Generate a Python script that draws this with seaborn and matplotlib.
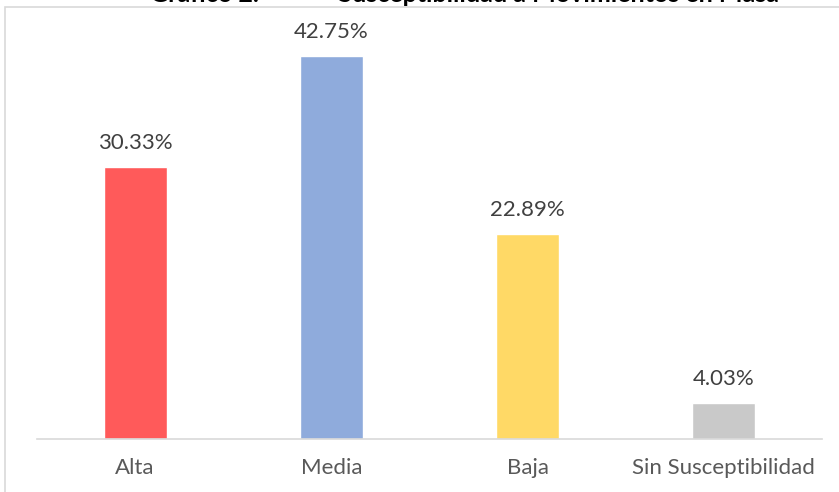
import matplotlib
matplotlib.use("Agg")
import matplotlib.pyplot as plt
import seaborn as sns
import pandas as pd
from matplotlib.patches import Rectangle

# datos del gráfico
categorias = ["Alta", "Media", "Baja", "Sin Susceptibilidad"]
porcentajes = [30.33, 42.75, 22.89, 4.03]
etiquetas = ["30.33%", "42.75%", "22.89%", "4.03%"]
colores = ["#FF5A5A", "#8FABDC", "#FFD966", "#C9C9C9"]

df = pd.DataFrame({"Categoria": categorias, "Porcentaje": porcentajes})

sns.set_style("white")
plt.rcParams['font.family'] = ['Lato', 'DejaVu Sans']

fig = plt.figure(figsize=(8.39, 4.92), dpi=100)
ax = fig.add_axes([37 / 839, 53 / 492, (822 - 37) / 839, (439 - 36) / 492])

sns.barplot(data=df, x="Categoria", y="Porcentaje", hue="Categoria",
            palette=colores, width=0.32, saturation=1, legend=False, ax=ax)

for cont, lab in zip(ax.containers, etiquetas):
    ax.bar_label(cont, labels=[lab], padding=10, fontsize=16, color="#404040")

ax.set_xlim(-0.5, 3.5)
ax.set_ylim(0, 45)
ax.set_xlabel("")
ax.set_ylabel("")
ax.set_yticks([])
ax.tick_params(axis="x", length=0, labelsize=16, labelcolor="#595959", pad=14)
for s in ["top", "right", "left"]:
    ax.spines[s].set_visible(False)
ax.spines["bottom"].set_color("#D9D9D9")
ax.spines["bottom"].set_linewidth(1.2)

# marco del área del gráfico
fig.patches.append(Rectangle((5 / 839, -0.1), 1.0, (492 - 7) / 492 + 0.1,
                             transform=fig.transFigure, fill=False,
                             edgecolor="#D9D9D9", linewidth=1.2))

# título (recortado en el original)
fig.text(465 / 839, (492 - 6) / 492,
         "Gráfico 2.             Susceptibilidad a Movimientos en Masa",
         ha="center", va="bottom", fontsize=18, fontweight="bold",
         color="#000000")

fig.savefig("out.png", dpi=100)
